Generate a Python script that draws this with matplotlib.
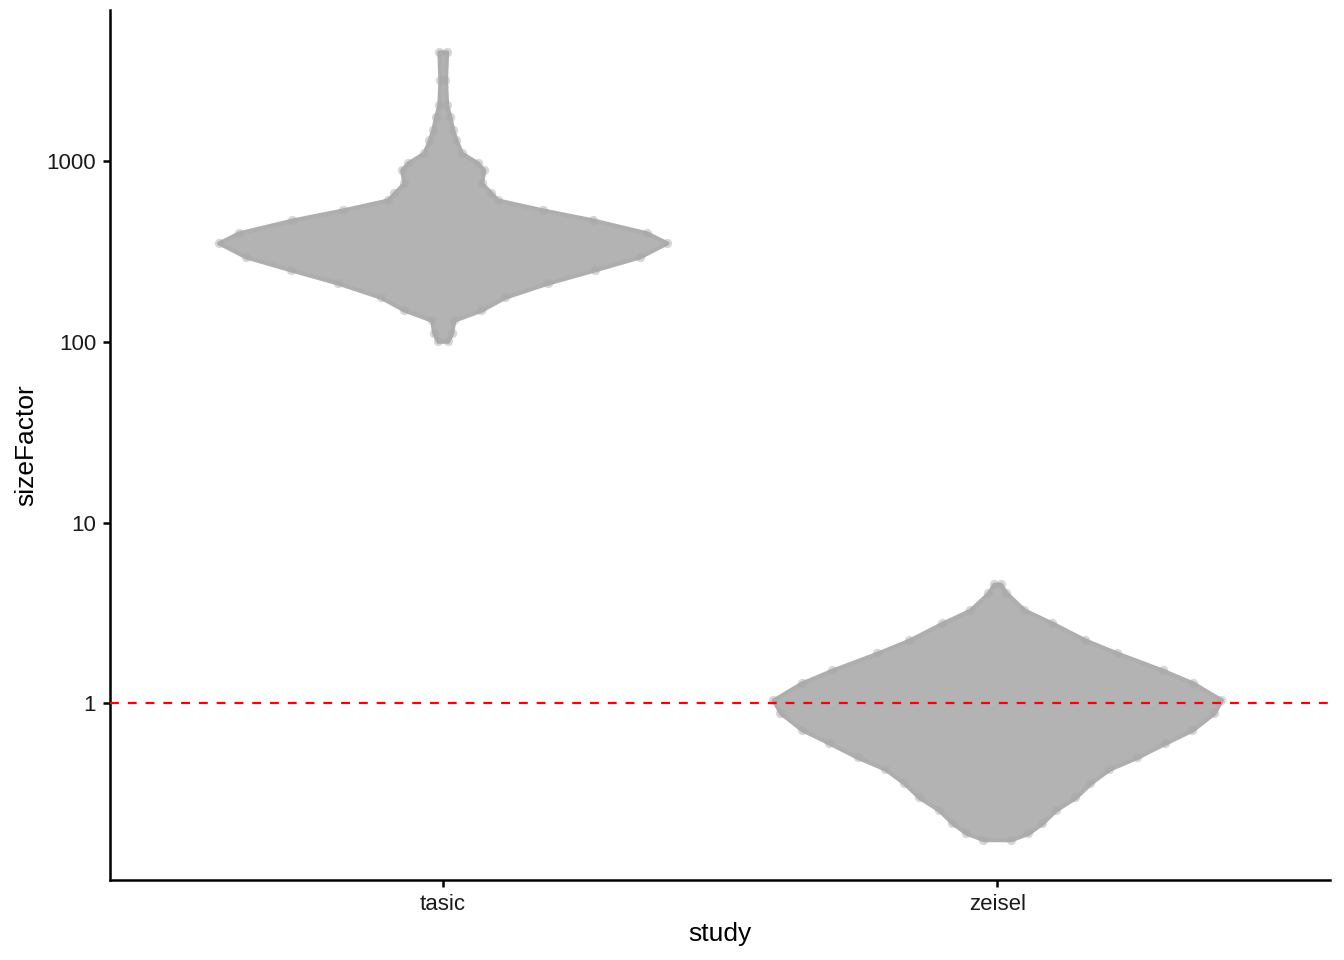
import matplotlib
matplotlib.use("Agg")
import matplotlib.pyplot as plt
import numpy as np

plt.rcParams['font.family'] = ['Liberation Sans', 'DejaVu Sans']

studies = ["tasic", "zeisel"]

# outline of each beeswarm: sizeFactor levels and half widths (x units)
tasic_sf = [4045, 2830, 2056, 1765, 1495, 1316, 1114, 981, 897, 760, 669, 612,
            539, 474, 402, 354, 296, 251, 212, 177, 150, 132, 112, 101]
tasic_hw = [0.007, 0.005, 0.007, 0.013, 0.018, 0.024, 0.034, 0.063, 0.074, 0.070,
            0.087, 0.099, 0.180, 0.271, 0.368, 0.404, 0.355, 0.274, 0.189, 0.112,
            0.069, 0.020, 0.016, 0.009]

zeisel_sf = [4.55, 4.07, 3.27, 2.77, 2.23, 1.89, 1.52, 1.29, 1.04, 0.88,
             0.71, 0.60, 0.50, 0.43, 0.36, 0.30, 0.255, 0.216, 0.19, 0.175]
zeisel_hw = [0.006, 0.016, 0.049, 0.099, 0.159, 0.216, 0.298, 0.353, 0.404, 0.391,
             0.352, 0.303, 0.252, 0.202, 0.168, 0.141, 0.105, 0.081, 0.056, 0.025]

ref_line = 1


def draw_swarm(ax, xc, sf, hw):
    sf = np.array(sf)
    hw = np.array(hw)
    ax.fill_betweenx(sf, xc - hw, xc + hw, color="#B3B3B3",
                     edgecolor="#AEAEAE", linewidth=3, joinstyle="round", zorder=2)
    ax.scatter(np.concatenate([xc - hw, xc + hw]), np.concatenate([sf, sf]),
               s=45, color="#A8A8A8", alpha=0.45, linewidths=0, zorder=3)


fig = plt.figure(figsize=(13.44, 9.6), dpi=100)
ax = fig.add_axes([110 / 1344, 80 / 960, 1220 / 1344, 870 / 960])

draw_swarm(ax, 1, tasic_sf, tasic_hw)
draw_swarm(ax, 2, zeisel_sf, zeisel_hw)

ax.axhline(ref_line, color="red", linestyle=(0, (4, 4)), linewidth=1.6, zorder=4)

ax.set_yscale("log")
ax.set_ylim(0.1046, 6907)
ax.set_xlim(0.4, 2.6)
ax.set_yticks([1, 10, 100, 1000])
ax.set_yticklabels(["1", "10", "100", "1000"])
ax.minorticks_off()
ax.set_xticks([1, 2])
ax.set_xticklabels(studies)

for s in ["top", "right"]:
    ax.spines[s].set_visible(False)
for s in ["left", "bottom"]:
    ax.spines[s].set_linewidth(1.8)
ax.tick_params(axis="both", length=5, width=1.8, labelsize=16,
               labelcolor="#1a1a1a", pad=5)

ax.set_xlabel("study", fontsize=19, labelpad=5)
ax.set_ylabel("sizeFactor", fontsize=19, labelpad=6)

fig.savefig("out.png", dpi=100)
